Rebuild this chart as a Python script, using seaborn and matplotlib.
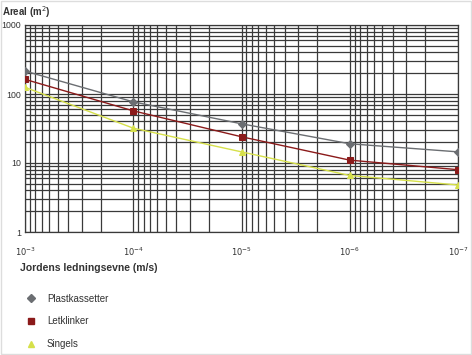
import matplotlib
matplotlib.use("Agg")
import matplotlib.pyplot as plt
import seaborn as sns
import pandas as pd
from matplotlib.lines import Line2D
from matplotlib.ticker import FixedLocator, FixedFormatter, LogLocator, NullFormatter

sns.set_style("white")
plt.rcParams['font.family'] = ['Liberation Sans', 'DejaVu Sans']

conductivity = [1e-3, 1e-4, 1e-5, 1e-6, 1e-7]
plastkassetter = [215, 77, 37, 19, 14.5]
letklinker = [163, 57, 24, 11, 8]
singels = [125, 32, 14.5, 6.6, 4.8]
series_names = ["Plastkassetter", "Letklinker", "Singels"]
x_ticks = [1e-3, 1e-4, 1e-5, 1e-6, 1e-7]
x_ticklabels = [r"$10^{-3}$", r"$10^{-4}$", r"$10^{-5}$", r"$10^{-6}$", r"$10^{-7}$"]
y_ticks = [1, 10, 100, 1000]
y_ticklabels = ["1", "10", "100", "1000"]

colors = {"Plastkassetter": "#6b6e72", "Letklinker": "#8b1a1a", "Singels": "#d6e04a"}
markers = {"Plastkassetter": "D", "Letklinker": "s", "Singels": "^"}
msize = {"Plastkassetter": 4.5, "Letklinker": 5, "Singels": 5}

df = pd.DataFrame({
    "x": conductivity * 3,
    "y": plastkassetter + letklinker + singels,
    "serie": [n for n in series_names for _ in conductivity],
})

fig = plt.figure(figsize=(4.72, 3.55), dpi=100)
ax = fig.add_axes([25/472, 1 - 232/355, (458-25)/472, (232-25)/355])

for name in series_names:
    sub = df[df["serie"] == name]
    sns.lineplot(data=sub, x="x", y="y", ax=ax, color=colors[name], marker=markers[name],
                 markersize=msize[name], markeredgecolor=colors[name], linewidth=1.0,
                 legend=False, zorder=5)

ax.set_xscale("log")
ax.set_yscale("log")
ax.set_xlim(1e-3, 1e-7)
ax.set_ylim(1, 1000)

ax.xaxis.set_major_locator(FixedLocator(x_ticks))
ax.xaxis.set_major_formatter(FixedFormatter(x_ticklabels))
ax.xaxis.set_minor_locator(LogLocator(base=10, subs=range(2, 10)))
ax.xaxis.set_minor_formatter(NullFormatter())
ax.yaxis.set_major_locator(FixedLocator(y_ticks))
ax.yaxis.set_major_formatter(FixedFormatter(y_ticklabels))
ax.yaxis.set_minor_locator(LogLocator(base=10, subs=range(2, 10)))
ax.yaxis.set_minor_formatter(NullFormatter())

ax.grid(True, which="both", color="#3a3a3a", linewidth=0.9)
ax.tick_params(which="both", length=0)
ax.tick_params(axis="x", labelsize=6, pad=10, colors="#333333")
ax.tick_params(axis="y", labelsize=6.3, pad=3, colors="#333333")
for s in ax.spines.values():
    s.set_color("#3a3a3a")
    s.set_linewidth(0.9)
ax.set_xlabel("")
ax.set_ylabel("")

fig.text(2/472, 1 - 12/355, "Areal (m$^2$)", fontsize=7, fontweight="bold", color="#333333", va="center")
fig.text(20/472, 1 - 268/355, "Jordens ledningsevne (m/s)", fontsize=7.5, fontweight="bold",
         color="#333333", va="center")

handles = [Line2D([], [], linestyle="none", marker=markers[n], color=colors[n],
                  markersize=msize[n]) for n in series_names]
fig.legend(handles, series_names, loc="upper left", bbox_to_anchor=(13/472, 1 - 285/355),
           frameon=False, fontsize=7, labelspacing=1.3, handletextpad=0.6,
           labelcolor="#333333")

fig.patches.append(plt.Rectangle((0.002, 0.002), 0.996, 0.996, transform=fig.transFigure,
                                 fill=False, edgecolor="#dddddd", linewidth=1))
fig.savefig("out.png", dpi=100)
